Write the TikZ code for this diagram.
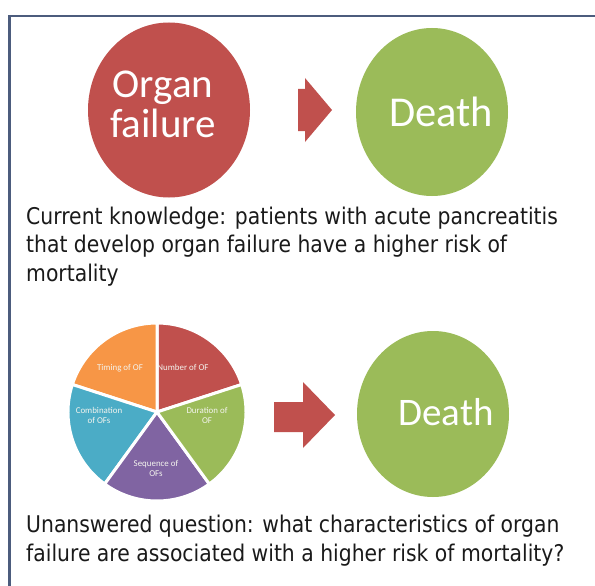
\documentclass[tikz,border=0pt]{standalone}
\usepackage{fontspec}
\setmainfont{Carlito}
\newfontfamily\bodyfont[FakeStretch=0.885]{DejaVu Sans}
\usetikzlibrary{shapes.geometric}

\definecolor{ofred}{HTML}{C0504D}
\definecolor{ofgreen}{HTML}{9BBB59}
\definecolor{oforange}{HTML}{F79646}
\definecolor{ofblue}{HTML}{4BACC6}
\definecolor{ofpurple}{HTML}{8064A2}
\definecolor{framecol}{HTML}{4C5C7D}
\definecolor{bodytext}{HTML}{1A1A1A}
\definecolor{labeltext}{HTML}{F4F4EE}

\tikzset{
  blob/.style={ellipse, inner sep=0pt, draw=none},
  bigword/.style={text=white, inner sep=0pt, anchor=base},
  bodyline/.style={text=bodytext, inner sep=0pt, anchor=base west,
    font=\bodyfont\fontsize{23}{28.5}\selectfont},
  slice/.style={draw=white, line width=3pt, line join=round},
  slicelabel/.style={text=labeltext, inner sep=0pt, anchor=base, align=center,
    font=\fontsize{8.9}{9.6}\selectfont},
  blockarrow/.style={fill=ofred, draw=none},
}

\begin{document}
\begin{tikzpicture}[x=1pt, y=-1pt]
  \useasboundingbox (0,0) rectangle (595,586);
  \clip (0,0) rectangle (595,586);
  \fill[white] (0,0) rectangle (595,586);

  % open frame (right and bottom sides run past the edge)
  \draw[framecol, line width=2.2pt] (9.5,600) -- (9.5,16) -- (600,16);

  % ---------- upper row: organ failure -> death ----------
  \node[blob, fill=ofred, minimum width=162pt, minimum height=175pt] (organ) at (169,110) {};
  \node[bigword, font=\fontsize{41}{40}\selectfont] (organA) at (163,98) {Organ};
  \node[bigword, font=\fontsize{41}{40}\selectfont] (organB) at (163,138) {failure};

  \coordinate (a1) at (298,89);
  \coordinate (a2) at (305,89);
  \coordinate (a3) at (305,78);
  \coordinate (a4) at (332,110);
  \coordinate (a5) at (305,142);
  \coordinate (a6) at (305,131);
  \coordinate (a7) at (298,131);
  \fill[blockarrow] (a1) -- (a2) -- (a3) -- (a4) -- (a5) -- (a6) -- (a7) -- cycle;

  \node[blob, fill=ofgreen, minimum width=152pt, minimum height=168pt] (deathA) at (432,112) {};
  \node[bigword, font=\fontsize{42.5}{42}\selectfont] (deathAtxt) at (441,127) {Death};

  \node[bodyline] (kn1) at (26,224) {Current knowledge: patients with acute pancreatitis};
  \node[bodyline] (kn2) at (26,252.5) {that develop organ failure have a higher risk of};
  \node[bodyline] (kn3) at (26,281) {mortality};

  % ---------- lower row: OF characteristics -> death ----------
  \coordinate (pc) at (157,412);
  % slices, page angles mirrored because y grows downward
  \filldraw[slice, fill=ofred]    (pc) -- ++(-18:89)  arc (-18:-90:89)   -- cycle;
  \filldraw[slice, fill=oforange] (pc) -- ++(-90:89)  arc (-90:-162:89)  -- cycle;
  \filldraw[slice, fill=ofblue]   (pc) -- ++(-162:89) arc (-162:-234:89) -- cycle;
  \filldraw[slice, fill=ofpurple] (pc) -- ++(-234:89) arc (-234:-306:89) -- cycle;
  \filldraw[slice, fill=ofgreen]  (pc) -- ++(-306:89) arc (-306:-378:89) -- cycle;

  \node[slicelabel] (lbTiming) at (120,370) {Timing of OF};
  \node[slicelabel] (lbNumber) at (183,370) {Number of OF};
  \node[slicelabel] (lbComb)   at (99,423)  {Combination\\of OFs};
  \node[slicelabel] (lbDur)    at (207,423) {Duration of\\OF};
  \node[slicelabel] (lbSeq)    at (156,476) {Sequence of\\OFs};

  \coordinate (b1) at (274,402);
  \coordinate (b2) at (303,402);
  \coordinate (b3) at (303,382);
  \coordinate (b4) at (335,415);
  \coordinate (b5) at (303,448);
  \coordinate (b6) at (303,432);
  \coordinate (b7) at (274,432);
  \fill[blockarrow] (b1) -- (b2) -- (b3) -- (b4) -- (b5) -- (b6) -- (b7) -- cycle;

  \node[blob, fill=ofgreen, minimum width=152pt, minimum height=166pt] (deathB) at (433,414) {};
  \node[bigword, font=\fontsize{39}{39}\selectfont] (deathBtxt) at (446,425) {Death};

  \node[bodyline] (uq1) at (26,532) {Unanswered question: what characteristics of organ};
  \node[bodyline] (uq2) at (26,561) {failure are associated with a higher risk of mortality?};
\end{tikzpicture}
\end{document}
